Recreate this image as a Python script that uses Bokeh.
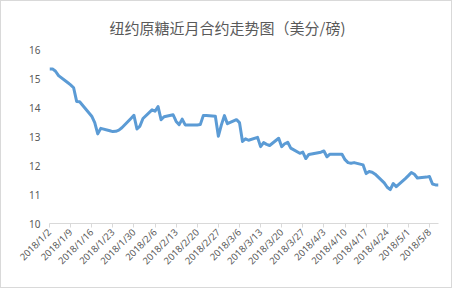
import datetime as dt
from bokeh.plotting import figure
from bokeh.models import Range1d, FixedTicker
from bokeh.embed import file_html
from bokeh.resources import INLINE

title_text = "纽约原糖近月合约走势图（美分/磅)"

jan_days = [2, 3, 4, 5, 8, 9, 10, 11, 12, 16, 17, 18, 19, 22, 23, 24, 25, 26, 29, 30, 31]
jan_vals = [15.33, 15.33, 15.25, 15.10, 14.86, 14.78, 14.68, 14.21, 14.20, 13.70, 13.48,
            13.09, 13.28, 13.20, 13.17, 13.18, 13.22, 13.30, 13.62, 13.73, 13.26]
feb_days = [1, 2, 5, 6, 7, 8, 9, 12, 13, 14, 15, 16, 20, 21, 22, 23, 26, 27, 28]
feb_vals = [13.36, 13.62, 13.92, 13.87, 14.03, 13.58, 13.68, 13.75, 13.52, 13.41, 13.60,
            13.40, 13.40, 13.41, 13.72, 13.72, 13.70, 13.01, 13.40]
mar_days = [1, 2, 5, 6, 7, 8, 9, 12, 13, 14, 15, 16, 19, 20, 21, 22, 23, 26, 27, 28, 29]
mar_vals = [13.72, 13.44, 13.58, 13.48, 12.83, 12.92, 12.87, 12.97, 12.65, 12.79, 12.73,
            12.69, 12.94, 12.65, 12.75, 12.80, 12.60, 12.42, 12.46, 12.24, 12.38]
apr_days = [2, 3, 4, 5, 6, 9, 10, 11, 12, 13, 16, 17, 18, 19, 20, 23, 24, 25, 26, 27, 30]
apr_vals = [12.46, 12.50, 12.30, 12.39, 12.39, 12.39, 12.20, 12.10, 12.08, 12.10, 12.02,
            11.72, 11.79, 11.77, 11.70, 11.40, 11.25, 11.17, 11.38, 11.27, 11.55]
may_days = [1, 2, 3, 4, 7, 8, 9, 10, 11]
may_vals = [11.65, 11.76, 11.70, 11.57, 11.60, 11.62, 11.36, 11.33, 11.33]

tick_labels = ["2018/1/2", "2018/1/9", "2018/1/16", "2018/1/23", "2018/1/30", "2018/2/6",
               "2018/2/13", "2018/2/20", "2018/2/27", "2018/3/6", "2018/3/13", "2018/3/20",
               "2018/3/27", "2018/4/3", "2018/4/10", "2018/4/17", "2018/4/24", "2018/5/1",
               "2018/5/8"]

y_ticks = [10, 11, 12, 13, 14, 15, 16]

base = dt.date(2018, 1, 2)
xs, ys = [], []
for m, days, vals in [(1, jan_days, jan_vals), (2, feb_days, feb_vals), (3, mar_days, mar_vals),
                      (4, apr_days, apr_vals), (5, may_days, may_vals)]:
    for d, v in zip(days, vals):
        xs.append((dt.date(2018, m, d) - base).days)
        ys.append(v)

def lab_to_day(s):
    y, m, d = (int(t) for t in s.split("/"))
    return (dt.date(y, m, d) - base).days

tick_pos = [lab_to_day(s) for s in tick_labels]

p = figure(width=452, height=288, output_backend="svg", toolbar_location=None,
           x_range=Range1d(0, xs[-1]), y_range=Range1d(10, 16),
           min_border_left=48, min_border_right=15, min_border_top=48, min_border_bottom=66)
p.outline_line_color = None
p.background_fill_color = "white"
p.border_fill_color = "white"
p.grid.visible = False

p.line(xs, ys, line_color="#5B9BD5", line_width=3, line_join="round")

xa = p.xaxis[0]
xa.ticker = FixedTicker(ticks=tick_pos)
xa.major_label_overrides = {t: s for t, s in zip(tick_pos, tick_labels)}
xa.major_label_orientation = 0.785398
xa.axis_line_color = "#D9D9D9"
xa.major_tick_line_color = "#D9D9D9"
xa.major_tick_out = 4
xa.major_tick_in = 0
xa.minor_tick_line_color = None
xa.major_label_text_font = "Noto Sans"
xa.major_label_text_font_size = "9.5px"
xa.major_label_text_color = "#595959"
xa.major_label_standoff = 3

ya = p.yaxis[0]
ya.ticker = FixedTicker(ticks=y_ticks)
ya.axis_line_color = None
ya.major_tick_line_color = None
ya.minor_tick_line_color = None
ya.major_tick_out = 0
ya.major_tick_in = 0
ya.major_label_standoff = 9
ya.major_label_text_font = "Noto Sans"
ya.major_label_text_font_size = "10px"
ya.major_label_text_color = "#595959"

p.title.text = title_text
p.title.align = "left"
p.title.offset = 60
p.title.standoff = 23
p.title.text_font = "Noto Sans CJK SC"
p.title.text_font_size = "15px"
p.title.text_font_style = "normal"
p.title.text_color = "#595959"

p.styles = {"border": "1px solid #D9D9D9", "box-sizing": "border-box"}

open("out.html", "w").write(file_html(p, INLINE))
